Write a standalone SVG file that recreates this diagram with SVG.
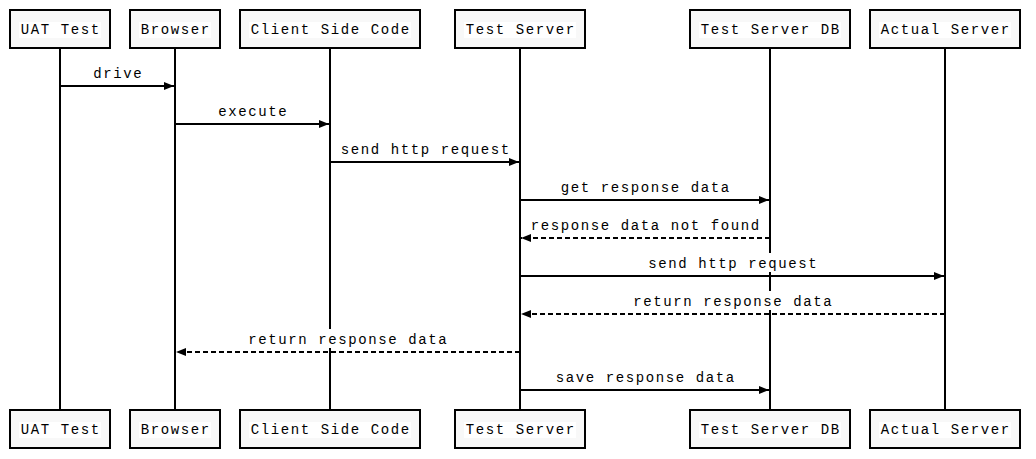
<svg xmlns="http://www.w3.org/2000/svg" width="1036" height="459" viewBox="0 0 1036 459">
<style>
.box{fill:#f8f8f8;stroke:#000;stroke-width:2}
.tbg{fill:#fff}
.life{stroke:#000;stroke-width:2}
.t{font-family:"Liberation Mono","Courier New",monospace;font-size:14px;letter-spacing:1.6px;fill:#000;text-anchor:middle}
.msg{stroke:#000;stroke-width:2;fill:none;marker-end:url(#ah)}
.dash{stroke-dasharray:5,3}
.lbg{fill:#fff}
</style>
<defs>
<marker id="ah" markerUnits="userSpaceOnUse" markerWidth="10" markerHeight="8" refX="10" refY="4" orient="auto" viewBox="0 0 10 8">
<path d="M0,0 L10,4 L0,8 z" fill="#000"/>
</marker>
</defs>
<rect width="1036" height="459" fill="#fff"/>
<g id="uat-test">
<line class="life" x1="60" y1="48" x2="60" y2="410"/>
<rect class="box" x="10" y="10" width="100" height="38"/>
<rect class="tbg" x="19" y="22" width="82" height="16"/>
<text class="t" x="60.8" y="34">UAT Test</text>
<rect class="box" x="10" y="410" width="100" height="38"/>
<rect class="tbg" x="19" y="422" width="82" height="16"/>
<text class="t" x="60.8" y="434">UAT Test</text>
</g>
<g id="browser">
<line class="life" x1="175" y1="48" x2="175" y2="410"/>
<rect class="box" x="130" y="10" width="90" height="38"/>
<rect class="tbg" x="139" y="22" width="72" height="16"/>
<text class="t" x="175.8" y="34">Browser</text>
<rect class="box" x="130" y="410" width="90" height="38"/>
<rect class="tbg" x="139" y="422" width="72" height="16"/>
<text class="t" x="175.8" y="434">Browser</text>
</g>
<g id="client-side-code">
<line class="life" x1="330" y1="48" x2="330" y2="410"/>
<rect class="box" x="240" y="10" width="180" height="38"/>
<rect class="tbg" x="249" y="22" width="162" height="16"/>
<text class="t" x="330.8" y="34">Client Side Code</text>
<rect class="box" x="240" y="410" width="180" height="38"/>
<rect class="tbg" x="249" y="422" width="162" height="16"/>
<text class="t" x="330.8" y="434">Client Side Code</text>
</g>
<g id="test-server">
<line class="life" x1="520" y1="48" x2="520" y2="410"/>
<rect class="box" x="455" y="10" width="130" height="38"/>
<rect class="tbg" x="464" y="22" width="112" height="16"/>
<text class="t" x="520.8" y="34">Test Server</text>
<rect class="box" x="455" y="410" width="130" height="38"/>
<rect class="tbg" x="464" y="422" width="112" height="16"/>
<text class="t" x="520.8" y="434">Test Server</text>
</g>
<g id="test-server-db">
<line class="life" x1="770" y1="48" x2="770" y2="410"/>
<rect class="box" x="690" y="10" width="160" height="38"/>
<rect class="tbg" x="699" y="22" width="142" height="16"/>
<text class="t" x="770.8" y="34">Test Server DB</text>
<rect class="box" x="690" y="410" width="160" height="38"/>
<rect class="tbg" x="699" y="422" width="142" height="16"/>
<text class="t" x="770.8" y="434">Test Server DB</text>
</g>
<g id="actual-server">
<line class="life" x1="945" y1="48" x2="945" y2="410"/>
<rect class="box" x="870" y="10" width="150" height="38"/>
<rect class="tbg" x="879" y="22" width="132" height="16"/>
<text class="t" x="945.8" y="34">Actual Server</text>
<rect class="box" x="870" y="410" width="150" height="38"/>
<rect class="tbg" x="879" y="422" width="132" height="16"/>
<text class="t" x="945.8" y="434">Actual Server</text>
</g>
<g id="connectors">
<rect class="lbg" x="91.5" y="63" width="52" height="19"/>
<text class="t" x="118.3" y="78">drive</text>
<line class="msg" x1="60" y1="86" x2="174" y2="86"/>

<rect class="lbg" x="216.5" y="101" width="72" height="19"/>
<text class="t" x="253.3" y="116">execute</text>
<line class="msg" x1="175" y1="124" x2="329" y2="124"/>

<rect class="lbg" x="339" y="139" width="172" height="19"/>
<text class="t" x="425.8" y="154">send http request</text>
<line class="msg" x1="330" y1="162" x2="519" y2="162"/>

<rect class="lbg" x="559" y="177" width="172" height="19"/>
<text class="t" x="645.8" y="192">get response data</text>
<line class="msg" x1="520" y1="200" x2="769" y2="200"/>

<rect class="lbg" x="529" y="215" width="232" height="19"/>
<text class="t" x="645.8" y="230">response data not found</text>
<line class="msg dash" x1="770" y1="238" x2="521" y2="238"/>

<rect class="lbg" x="646.5" y="253" width="172" height="19"/>
<text class="t" x="733.3" y="268">send http request</text>
<line class="msg" x1="520" y1="276" x2="944" y2="276"/>

<rect class="lbg" x="631.5" y="291" width="202" height="19"/>
<text class="t" x="733.3" y="306">return response data</text>
<line class="msg dash" x1="945" y1="314" x2="521" y2="314"/>

<rect class="lbg" x="246.5" y="329" width="202" height="19"/>
<text class="t" x="348.3" y="344">return response data</text>
<line class="msg dash" x1="520" y1="352" x2="176" y2="352"/>

<rect class="lbg" x="554" y="367" width="182" height="19"/>
<text class="t" x="645.8" y="382">save response data</text>
<line class="msg" x1="520" y1="390" x2="769" y2="390"/>
</g>
</svg>
